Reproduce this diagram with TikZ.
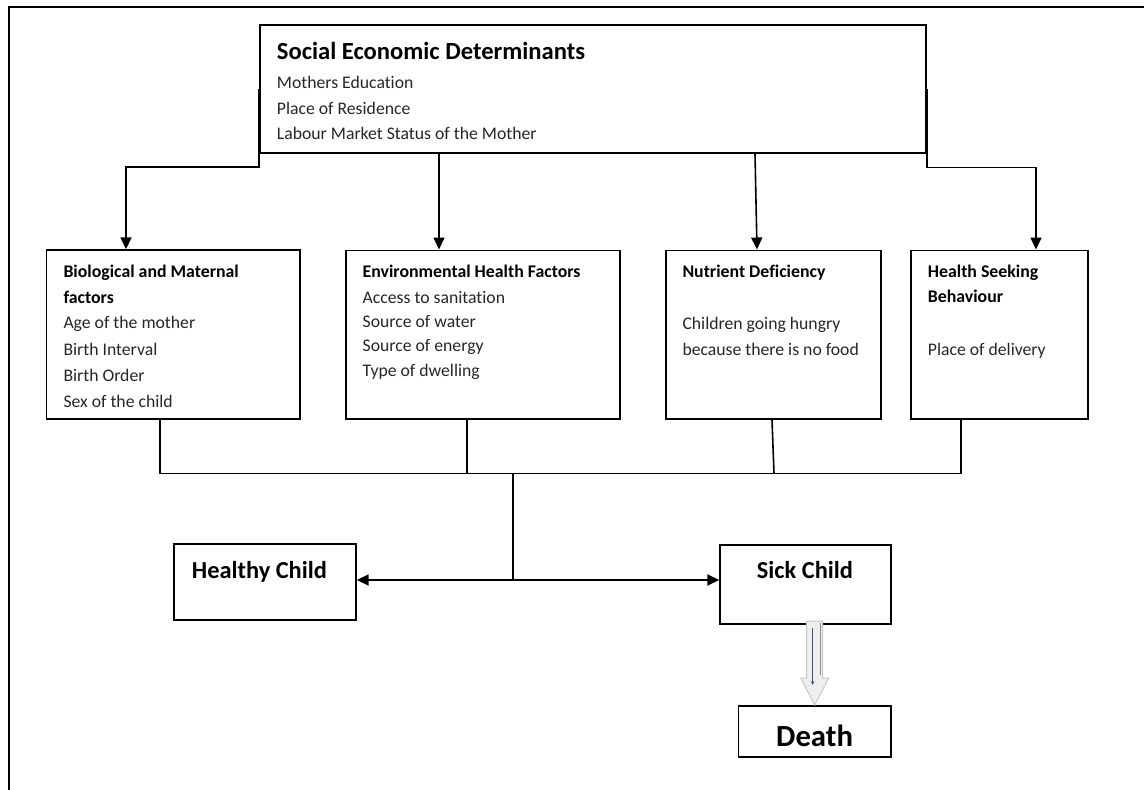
\documentclass[tikz,border=0pt]{standalone}
\usepackage{fontspec}
\setmainfont[Ligatures=NoCommon]{Carlito}
\usetikzlibrary{arrows.meta,calc}
\definecolor{bodytxt}{HTML}{262626}
\definecolor{arrfill}{HTML}{EEEEEE}
\definecolor{arredge}{HTML}{C8C8C8}
\definecolor{thinblue}{HTML}{44546A}
\begin{document}
\begin{tikzpicture}[x=1pt,y=-1pt,
  box/.style 2 args={draw=black, line width=1.7pt, anchor=north west, inner sep=0pt,
    minimum width=#1, minimum height=#2},
  ln/.style={anchor=base west, inner sep=0pt, text=bodytxt, font=\fontsize{17.7}{20}\selectfont},
  hd/.style={anchor=base west, inner sep=0pt, text=black, font=\fontsize{17.8}{20}\selectfont\bfseries},
  big/.style={anchor=base west, inner sep=0pt, text=black, font=\fontsize{24.4}{28}\selectfont\bfseries},
  conn/.style={line width=1.6pt, draw=black},
  arr/.style={conn, -{Triangle[length=12pt,width=11pt]}},
]
\useasboundingbox (0,0) rectangle (1144,790);
% frame
\draw[line width=2pt] (9,790) -- (9,7) -- (1144,7);

% boxes
\node[box={666pt}{128pt}] (top) at (259,24) {};
\node[box={253.6pt}{169pt}] (b1) at (45.7,249.3) {};
\node[box={274pt}{168.3pt}] (b2) at (345,249.5) {};
\node[box={215.3pt}{168.5pt}] (b3) at (665,249.5) {};
\node[box={176.7pt}{168.5pt}] (b4) at (910.3,249.5) {};
\node[box={181.7pt}{75.7pt}] (healthy) at (173.3,543.3) {};
\node[box={170.7pt}{79.3pt}] (sick) at (719.3,544) {};
\node[box={152.3pt}{51pt}] (death) at (737.7,705) {};

% top box text
\node[big, font=\fontsize{24.6}{28}\selectfont\bfseries] (t0) at (276.7,59.3) {Social Economic Determinants};
\node[ln] (t1) at (276.7,88.3) {Mothers Education};
\node[ln] (t2) at (276.7,114) {Place of Residence};
\node[ln] (t3) at (276.7,139.3) {Labour Market Status of the Mother};

% box 1
\node[hd] (a0) at (63.3,277) {Biological and Maternal};
\node[hd] (a1) at (63.3,303) {factors};
\node[ln] (a2) at (63.3,328.5) {Age of the mother};
\node[ln] (a3) at (63.3,355) {Birth Interval};
\node[ln] (a4) at (63.3,381) {Birth Order};
\node[ln] (a5) at (63.3,407) {Sex of the child};

% box 2
\node[hd] (e0) at (362.5,277.3) {Environmental Health Factors};
\node[ln] (e1) at (362.5,303.3) {Access to sanitation};
\node[ln] (e2) at (362.5,327.5) {Source of water};
\node[ln] (e3) at (362.5,351.7) {Source of energy};
\node[ln] (e4) at (362.5,376) {Type of dwelling};

% box 3
\node[hd] (n0) at (682.3,277.3) {Nutrient Deficiency};
\node[ln] (n1) at (682.3,329.3) {Children going hungry};
\node[ln] (n2) at (682.3,355) {because there is no food};

% box 4
\node[hd] (h0) at (927.7,277.3) {Health Seeking};
\node[hd] (h1) at (927.7,302.7) {Behaviour};
\node[ln] (h2) at (927.7,355) {Place of delivery};

% outcome labels
\node[big] (hl) at (191.7,578.3) {Healthy Child};
\node[big] (sl) at (756.7,578.3) {Sick Child};
\node[big, font=\fontsize{30.7}{34}\selectfont\bfseries] (dl) at (776,746.7) {Death};

% connectors from top box
\draw[arr] (top.west) -- (top.west |- 0,167) -| (126,0 |- b1.north);
\draw[arr] (439,0 |- top.south) -- (439,0 |- b2.north);
\draw[arr] (755,0 |- top.south) -- (757,0 |- b3.north);
\draw[arr] (top.east) -- (top.east |- 0,167.5) -| (1036,0 |- b4.north);

% joining lines
\coordinate (j) at (513,473.5);
\draw[conn] (160,0 |- b1.south) -- (160,473.5) -- (961,473.5) -- (961,0 |- b4.south);
\draw[conn] (466.7,0 |- b2.south) -- (466.7,473.5);
\draw[conn] (772,0 |- b3.south) -- (774,473.5);
\draw[conn] (j) -- (513,580) coordinate (k);
\draw[arr] (k) -- (k -| healthy.east);
\draw[arr] (k) -- (k -| sick.west);

% hollow block arrow sick -> death
\coordinate (tip) at (death.north);
\draw[fill=arrfill, draw=arredge, line width=1pt]
  ($(tip)+(-8,-84)$) -- ($(tip)+(8,-84)$) -- ($(tip)+(8,-27)$) -- ($(tip)+(14,-27)$)
  -- (tip) -- ($(tip)+(-14,-27)$) -- ($(tip)+(-8,-27)$) -- cycle;
\draw[draw=black!45, line width=0.8pt] ($(tip)+(6,-82)$) -- ($(tip)+(6,-30)$);
\draw[thinblue, line width=0.8pt, -{Stealth[length=4pt,width=3.5pt]}]
  ($(tip)+(-2,-77)$) -- ($(tip)+(-2,-20)$);
\end{tikzpicture}
\end{document}
